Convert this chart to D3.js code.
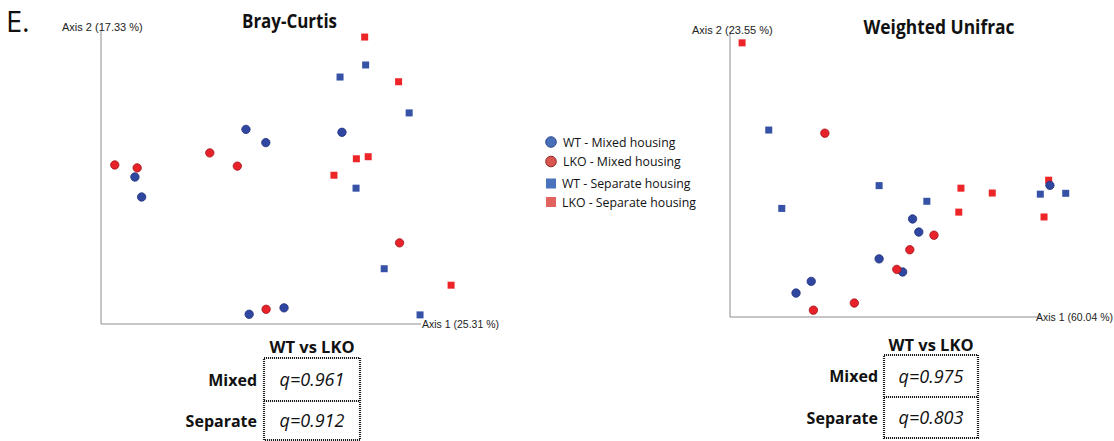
<!DOCTYPE html>
<html>
<head>
<meta charset="utf-8">
<script src="https://cdn.jsdelivr.net/npm/d3@7"></script>
<style>
  html, body { margin: 0; padding: 0; background: #fff; }
  svg { display: block; }
</style>
</head>
<body>
<svg id="chart" width="1114" height="441"></svg>
<script>
// PCoA ordination scores (axis-relative units, 0–100 on each axis)
const groups = ["WT - Mixed housing", "LKO - Mixed housing", "WT - Separate housing", "LKO - Separate housing"];

// Bray-Curtis: [Axis 1, Axis 2]
const brayWtMixed = [[45.3, 66.2], [51.5, 61.7], [75.3, 65.2], [10.6, 50.0], [12.7, 43.2], [46.3, 3.3], [57.2, 5.5]];
const brayLkoMixed = [[4.3, 54.1], [11.3, 53.1], [34.0, 58.2], [42.6, 53.7], [93.3, 27.6], [51.6, 5.0]];
const brayWtSeparate = [[82.7, 88.1], [74.7, 84.0], [96.3, 71.8], [79.7, 46.2], [88.5, 18.8], [99.7, 3.1]];
const brayLkoSeparate = [[82.4, 97.6], [93.0, 82.4], [79.8, 56.2], [83.5, 56.9], [72.8, 50.6], [109.4, 13.2]];

// Weighted Unifrac: [Axis 1, Axis 2]
const unifracWtMixed = [[103.2, 46.2], [58.9, 34.4], [60.9, 29.8], [48.1, 20.4], [55.7, 15.8], [26.2, 12.5], [21.3, 8.4]];
const unifracLkoMixed = [[30.6, 64.5], [65.8, 28.7], [58.0, 23.6], [53.8, 16.7], [40.1, 4.9], [26.9, 2.4]];
const unifracWtSeparate = [[12.5, 65.6], [48.1, 46.1], [16.7, 38.1], [63.5, 40.6], [100.1, 43.1], [108.3, 43.4]];
const unifracLkoSeparate = [[3.9, 96.2], [74.5, 45.2], [84.6, 43.5], [73.8, 36.8], [102.8, 48.0], [101.3, 35.1]];

const axisLabelsBray = ["Axis 1 (25.31 %)", "Axis 2 (17.33 %)"];
const axisLabelsUnifrac = ["Axis 1 (60.04 %)", "Axis 2 (23.55 %)"];

// PERMANOVA q-values, WT vs LKO
const tableRows = ["Mixed", "Separate"];
const brayQ = ["q=0.961", "q=0.912"];
const unifracQ = ["q=0.975", "q=0.803"];

const svg = d3.select("#chart");
const sansFont = "'Open Sans', 'Noto Sans', sans-serif";
const axisFont = "'Liberation Sans', Arial, sans-serif";

const markColors = {
  blue: "#2f47a0", blueStroke: "#1f2f7a",
  red: "#e8222b", redStroke: "#9e1419",
  sqBlue: "#3552a6", sqRed: "#ee2528"
};

function drawPanel(cfg) {
  const x = d3.scaleLinear().domain([0, 100]).range(cfg.xRange);
  const y = d3.scaleLinear().domain([0, 100]).range(cfg.yRange);
  const g = svg.append("g");

  // axis lines
  g.append("path")
    .attr("d", d3.line()([[x(0), y(100)], [x(0), y(0)], [x(100), y(0)]]))
    .attr("fill", "none").attr("stroke", "#8c8c8c").attr("stroke-width", 1);

  g.append("text").attr("x", cfg.yLabelPos[0]).attr("y", cfg.yLabelPos[1])
    .attr("font-family", axisFont).attr("font-size", 11).attr("fill", "#222")
    .text(cfg.labels[1]);
  g.append("text").attr("x", cfg.xLabelPos[0]).attr("y", cfg.xLabelPos[1])
    .attr("text-anchor", cfg.xLabelAnchor)
    .attr("font-family", axisFont).attr("font-size", 10.5).attr("fill", "#222")
    .text(cfg.labels[0]);

  g.append("text").attr("x", cfg.titlePos[0]).attr("y", cfg.titlePos[1])
    .attr("text-anchor", "middle").attr("font-family", sansFont)
    .attr("font-weight", 700).attr("font-size", 20).attr("fill", "#111")
    .attr("textLength", cfg.titleWidth).attr("lengthAdjust", "spacingAndGlyphs")
    .text(cfg.title);

  const sq = 7;
  g.selectAll(".sqb").data(cfg.wtSep).join("rect")
    .attr("x", d => x(d[0]) - sq / 2).attr("y", d => y(d[1]) - sq / 2)
    .attr("width", sq).attr("height", sq).attr("fill", markColors.sqBlue);
  g.selectAll(".sqr").data(cfg.lkoSep).join("rect")
    .attr("x", d => x(d[0]) - sq / 2).attr("y", d => y(d[1]) - sq / 2)
    .attr("width", sq).attr("height", sq).attr("fill", markColors.sqRed);
  g.selectAll(".cb").data(cfg.wtMix).join("circle")
    .attr("cx", d => x(d[0])).attr("cy", d => y(d[1])).attr("r", 4.2)
    .attr("fill", markColors.blue).attr("stroke", markColors.blueStroke).attr("stroke-width", 0.8);
  g.selectAll(".cr").data(cfg.lkoMix).join("circle")
    .attr("cx", d => x(d[0])).attr("cy", d => y(d[1])).attr("r", 4.2)
    .attr("fill", markColors.red).attr("stroke", markColors.redStroke).attr("stroke-width", 0.8);

  // q-value table
  const t = cfg.table;
  g.append("text").attr("x", (t.x0 + t.x1) / 2).attr("y", t.headY)
    .attr("text-anchor", "middle").attr("font-family", sansFont)
    .attr("font-weight", 700).attr("font-size", 16.5).attr("fill", "#111")
    .text("WT vs LKO");
  const border = g.append("g").attr("fill", "none").attr("stroke", "#1a1a1a")
    .attr("stroke-width", 2.2).attr("stroke-dasharray", "1.1,0.9");
  border.append("rect").attr("x", t.x0).attr("y", t.y0)
    .attr("width", t.x1 - t.x0).attr("height", t.y2 - t.y0);
  border.append("line").attr("x1", t.x0).attr("x2", t.x1).attr("y1", t.y1).attr("y2", t.y1);
  const rowsY = [(t.y0 + t.y1) / 2, (t.y1 + t.y2) / 2];
  tableRows.forEach((r, i) => {
    g.append("text").attr("x", t.labelX).attr("y", rowsY[i] + 6)
      .attr("text-anchor", "end").attr("font-family", sansFont)
      .attr("font-weight", 700).attr("font-size", 16).attr("fill", "#111").text(r);
    g.append("text").attr("x", (t.x0 + t.x1) / 2).attr("y", rowsY[i] + 6.5)
      .attr("text-anchor", "middle").attr("font-family", sansFont)
      .attr("font-style", "italic").attr("font-size", 18).attr("fill", "#111").text(cfg.q[i]);
  });
}

drawPanel({
  title: "Bray-Curtis", titlePos: [289.5, 28], titleWidth: 95,
  xRange: [101, 421], yRange: [324, 30],
  labels: axisLabelsBray, yLabelPos: [62, 31], xLabelPos: [422, 328], xLabelAnchor: "start",
  wtMix: brayWtMixed, lkoMix: brayLkoMixed, wtSep: brayWtSeparate, lkoSep: brayLkoSeparate,
  q: brayQ,
  table: { x0: 264, x1: 360, y0: 358, y1: 401, y2: 440, labelX: 257, headY: 353 }
});

drawPanel({
  title: "Weighted Unifrac", titlePos: [939, 34], titleWidth: 151,
  xRange: [730, 1040], yRange: [317, 32],
  labels: axisLabelsUnifrac, yLabelPos: [692, 34], xLabelPos: [1113, 321], xLabelAnchor: "end",
  wtMix: unifracWtMixed, lkoMix: unifracLkoMixed, wtSep: unifracWtSeparate, lkoSep: unifracLkoSeparate,
  q: unifracQ,
  table: { x0: 884, x1: 978, y0: 355, y1: 397, y2: 438, labelX: 878, headY: 351 }
});

// panel letter
svg.append("text").attr("x", 6).attr("y", 32)
  .attr("font-family", sansFont).attr("font-size", 29).attr("fill", "#111").text("E.");

// legend
const legendColors = [
  { fill: "#4a6fb9", stroke: "#2e4a8a", shape: "circle" },
  { fill: "#d8564e", stroke: "#8e2b26", shape: "circle" },
  { fill: "#4a73bd", shape: "square" },
  { fill: "#e0635d", shape: "square" }
];
const legendRowY = [142, 161.5, 183.5, 202];
const legend = svg.append("g");
groups.forEach((name, i) => {
  const c = legendColors[i];
  const cy = legendRowY[i];
  if (c.shape === "circle") {
    legend.append("circle").attr("cx", 551).attr("cy", cy).attr("r", 5.3)
      .attr("fill", c.fill).attr("stroke", c.stroke).attr("stroke-width", 1);
    legend.append("text").attr("x", 563).attr("y", cy + 4.5)
      .attr("font-family", sansFont).attr("font-size", 12.3).attr("fill", "#111").text(name);
  } else {
    legend.append("rect").attr("x", 546).attr("y", cy - 5).attr("width", 10).attr("height", 10)
      .attr("fill", c.fill);
    legend.append("text").attr("x", 562).attr("y", cy + 4.5)
      .attr("font-family", sansFont).attr("font-size", 12.3).attr("fill", "#111").text(name);
  }
});
</script>
</body>
</html>
